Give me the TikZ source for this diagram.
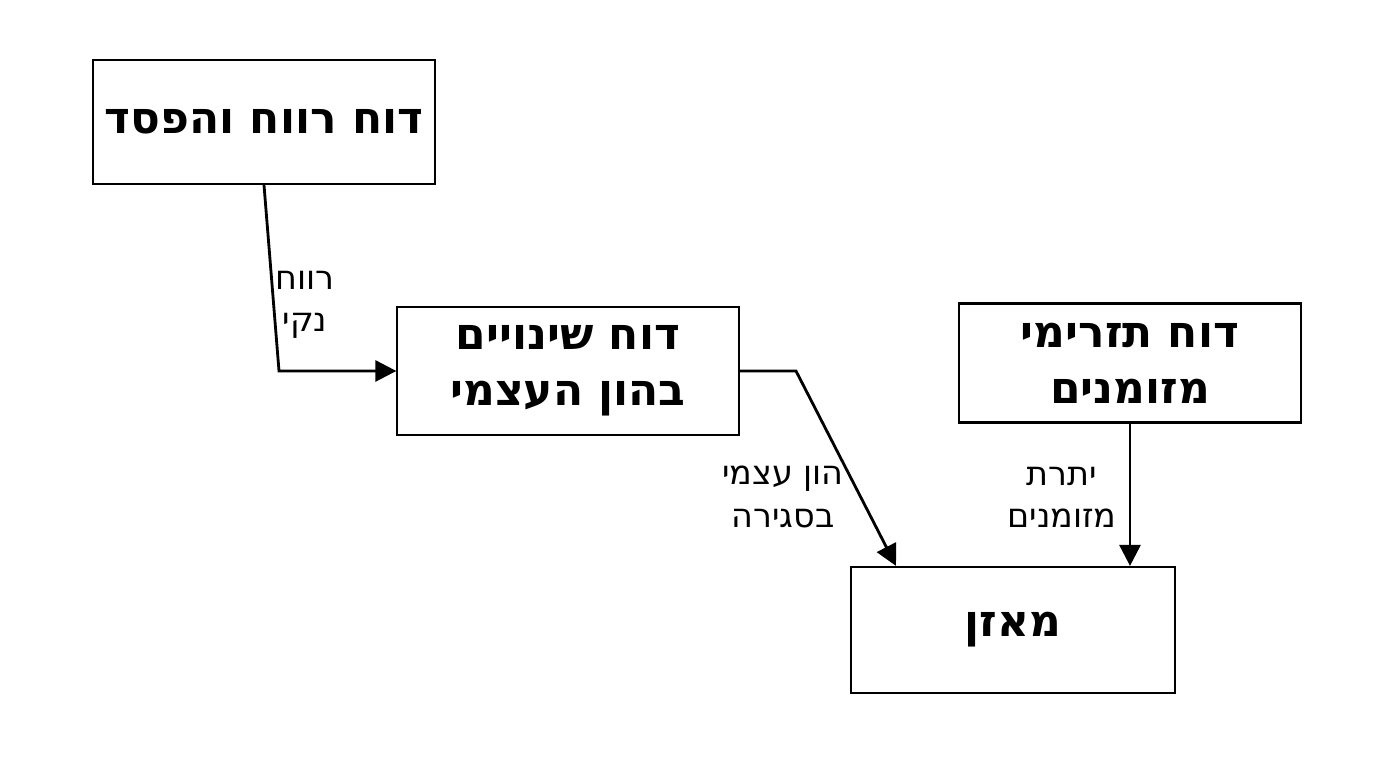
\documentclass[tikz,border=0pt]{standalone}
\usepackage{fontspec}
\setmainfont{DejaVu Sans}
\usetikzlibrary{arrows.meta}
\TeXXeTstate=1
\newcommand{\rtl}[1]{\beginR #1\endR}
\tikzset{
  report/.style={draw, line width=0.6pt, align=center, font=\bfseries\fontsize{12.5}{16}\selectfont, inner sep=0pt},
  flow/.style={line width=0.8pt, -{Triangle[length=6pt,width=6pt]}},
  lbl/.style={align=center, font=\fontsize{9.5}{12}\selectfont}
}
\begin{document}
\begin{tikzpicture}[x=0.01cm, y=-0.01cm]
        % Frame
        \useasboundingbox (0,0) rectangle (1376,768);

        % Reports
        \node[report, minimum width=3.42cm, minimum height=1.24cm] (pnl) at (264,122) {\rtl{דוח רווח והפסד}};
        \node[report, minimum width=3.41cm, minimum height=1.28cm] (equity) at (568,371) {\rtl{דוח שינויים}\\ \rtl{בהון העצמי}};
        \node[report, minimum width=3.41cm, minimum height=1.19cm] (cash) at (1130,363) {\rtl{דוח תזרימי}\\ \rtl{מזומנים}};
        \node[report, minimum width=3.23cm, minimum height=1.26cm] (balance) at (1013,630) {\rtl{מאזן}};

        % Connectors
        \coordinate (k1) at (279,371);
        \coordinate (k2) at (796,371);
        \draw[flow] (pnl.south) -- (k1) -- (equity.west);
        \draw[flow] (equity.east) -- (k2) -- (balance.north west -| 896,0);
        \draw[flow] (cash.south) -- (cash.south |- balance.north);

        % Labels
        \node[lbl] (netprofit) at (305,305) {\rtl{רווח}\\ \rtl{נקי}};
        \node[lbl] (closing) at (783,497) {\rtl{הון עצמי}\\ \rtl{בסגירה}};
        \node[lbl] (cashbal) at (1062,497) {\rtl{יתרת}\\ \rtl{מזומנים}};
\end{tikzpicture}
\end{document}
